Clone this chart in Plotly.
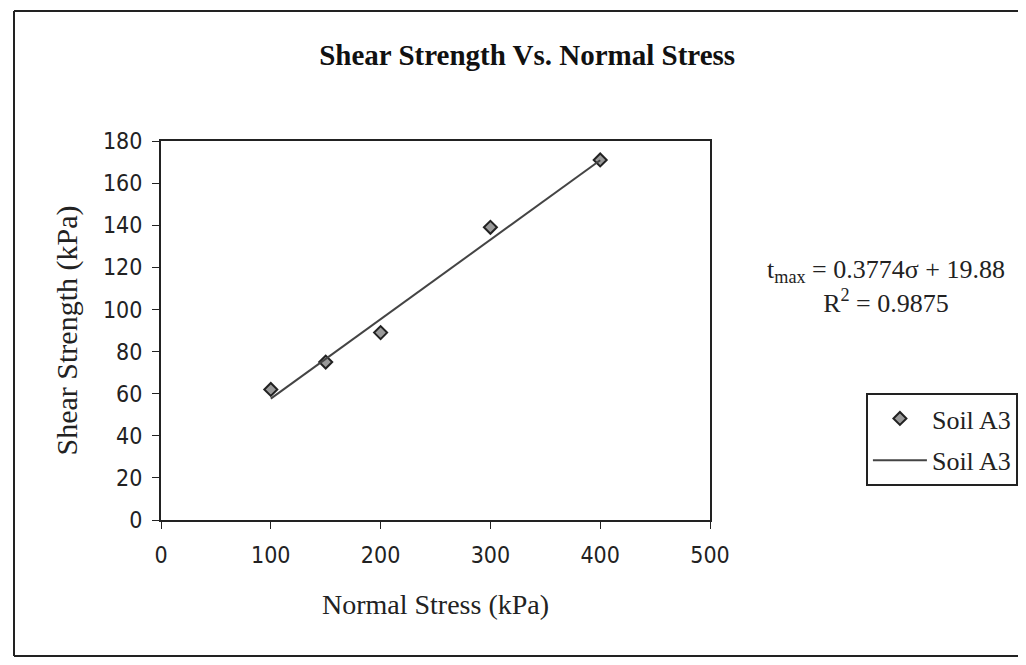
import plotly.graph_objects as go

# Data
normal_stress = [100, 150, 200, 300, 400]
shear_strength = [62, 75, 89, 139, 171]
slope = 0.3774
intercept = 19.88
r_squared = 0.9875
trend_x = [100, 400]
trend_y = [slope * v + intercept for v in trend_x]
x_ticks = [0, 100, 200, 300, 400, 500]
y_ticks = [0, 20, 40, 60, 80, 100, 120, 140, 160, 180]
series_name = "Soil A3"

SERIF = "Liberation Serif, Times New Roman, serif"
NARROW = "DejaVu Sans Condensed, Liberation Sans Narrow, Liberation Serif, serif"

fig = go.Figure()
fig.add_trace(go.Scatter(
    x=normal_stress, y=shear_strength, mode="markers", name=series_name,
    legendgroup="pts",
    marker=dict(symbol="diamond", size=10, color="#9a9a9a",
                line=dict(color="#222222", width=2)),
))
fig.add_trace(go.Scatter(
    x=trend_x, y=trend_y, mode="lines", name=series_name,
    legendgroup="fit",
    line=dict(color="#444444", width=2),
))

fig.update_layout(
    width=1026, height=665,
    margin=dict(l=153, r=324, t=133, b=153),
    paper_bgcolor="white", plot_bgcolor="white",
    title=dict(text="<b>Shear Strength Vs. Normal Stress</b>",
               x=0.506, xanchor="center", y=0.929, yanchor="middle",
               font=dict(family=SERIF, size=29, color="#111111")),
    xaxis=dict(range=[0, 500], tickvals=x_ticks, ticks="outside", ticklen=7,
               tickcolor="#222222", showline=True, linecolor="#222222", linewidth=2,
               mirror=True, showgrid=False, zeroline=False, ticklabelstandoff=6,
               tickfont=dict(family=NARROW, size=23, color="#222222"),
               title=dict(text="Normal Stress (kPa)", standoff=28,
                          font=dict(family=SERIF, size=28, color="#222222"))),
    yaxis=dict(range=[0, 180], tickvals=y_ticks, ticks="outside", ticklen=7,
               tickcolor="#222222", showline=True, linecolor="#222222", linewidth=2,
               mirror=True, showgrid=False, zeroline=False, ticklabelstandoff=5,
               tickfont=dict(family=NARROW, size=23, color="#222222"),
               title=dict(text="Shear Strength (kPa)", standoff=16,
                          font=dict(family=SERIF, size=30, color="#222222"))),
    legend=dict(x=1.284, xanchor="left", y=0.335, yanchor="top",
                bordercolor="#222222", borderwidth=2, bgcolor="white",
                font=dict(family=SERIF, size=26, color="#222222"),
                itemwidth=54, tracegroupgap=5),
    showlegend=True,
)

fig.add_annotation(
    xref="paper", yref="paper", x=(885 - 160) / 549, y=0.615,
    xanchor="center", yanchor="middle",
    showarrow=False, align="center",
    text=f"t<sub>max</sub> = {slope}σ + {intercept}<br>R<sup>2</sup> = {r_squared}",
    font=dict(family=SERIF, size=26, color="#222222"),
)

# outer chart frame (open on the right, as in the scanned reference)
fx0 = (13 - 160) / 549
fx1 = (1200 - 160) / 549
fy0 = (519 - 655) / 379
fy1 = (519 - 10) / 379
frame = dict(color="#222222", width=2)
fig.add_shape(type="line", xref="paper", yref="paper", x0=fx0, x1=fx1, y0=fy1, y1=fy1, line=frame)
fig.add_shape(type="line", xref="paper", yref="paper", x0=fx0, x1=fx0, y0=fy0, y1=fy1, line=frame)
fig.add_shape(type="line", xref="paper", yref="paper", x0=fx0, x1=fx1, y0=fy0, y1=fy0, line=frame)

fig.write_html("out.html")
